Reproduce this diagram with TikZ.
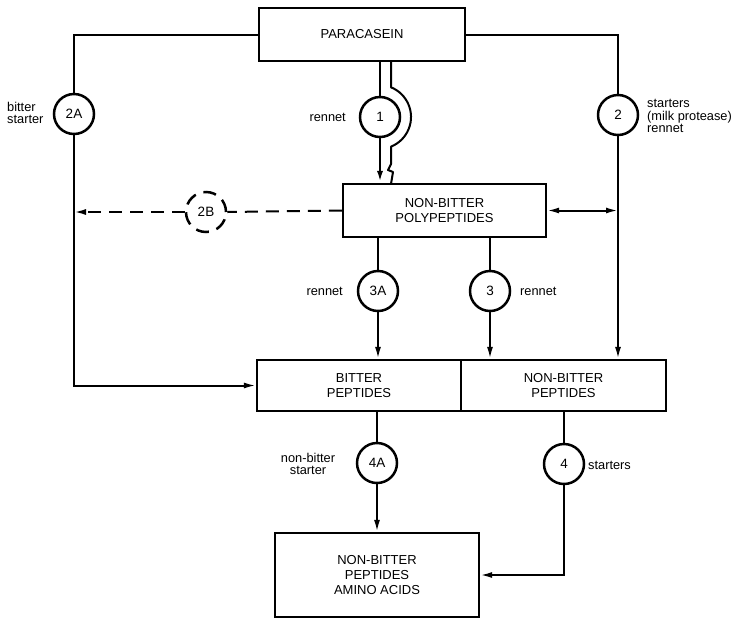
\documentclass[tikz,border=0pt]{standalone}
\usepackage{fontspec}
\setmainfont{Liberation Sans}
\usetikzlibrary{arrows.meta}
\begin{document}
\begin{tikzpicture}[x=1pt,y=1pt,
  box/.style={draw, line width=2.2pt, rectangle, align=center, inner sep=0pt,
    font=\fontsize{13}{15}\selectfont},
  circ/.style={draw, circle, line width=2.5pt, minimum size=40pt, inner sep=0pt,
    font=\fontsize{13.5}{15}\selectfont},
  lab/.style={inner sep=0pt, font=\fontsize{12.8}{12.5}\selectfont},
  conn/.style={line width=2pt},
  tip/.tip={Latex[length=12pt,width=6pt]},
  arr/.style={conn, -tip},
  dash2/.style={dash pattern=on 13pt off 8pt}]
\useasboundingbox (0,0) rectangle (738,-619);

% boxes
\node[box, minimum width=206pt, minimum height=53pt] (para) at (362,-34.5) {PARACASEIN};
\node[box, minimum width=203pt, minimum height=53pt] (nbpp) at (444.5,-210.5) {NON-BITTER\\POLYPEPTIDES};
\node[box, minimum width=204pt, minimum height=51pt] (bitter) at (359,-385.5) {BITTER\\PEPTIDES};
\node[box, minimum width=205pt, minimum height=51pt] (nbp) at (563.5,-385.5) {NON-BITTER\\PEPTIDES};
\node[box, minimum width=204pt, minimum height=84pt] (final) at (377,-575) {NON-BITTER\\PEPTIDES\\AMINO ACIDS};

% circles
\node[circ] (c2A) at (74,-114) {2A};
\node[circ] (c1) at (380,-117) {1};
\node[circ] (c2) at (618,-115) {2};
\node[circ, dash2] (c2B) at (206,-212) {2B};
\node[circ] (c3A) at (378,-291) {3A};
\node[circ] (c3) at (490,-291) {3};
\node[circ] (c4A) at (377,-463) {4A};
\node[circ] (c4) at (564,-464) {4};

% labels
\node[lab, anchor=west, align=left] (lbitter) at (7,-113) {bitter\\starter};
\node[lab, anchor=east] (lren1) at (346,-117) {rennet};
\node[lab, anchor=west, align=left] (lstart2) at (647,-116) {starters\\(milk protease)\\rennet};
\node[lab, anchor=east] (lren3A) at (343,-291) {rennet};
\node[lab, anchor=west] (lren3) at (520,-291) {rennet};
\node[lab, align=center] (lnbs) at (308,-464) {non-bitter\\starter};
\node[lab, anchor=west] (lst4) at (588,-465) {starters};

% connectors: left branch
\draw[conn] (para.west) -| (c2A.north);
\draw[arr] (c2A.south) |- (bitter.west);
% right branch
\draw[conn] (para.east) -| (c2.north);
\draw[arr] (c2.south) -- (c2 |- nbp.north);
% rennet 1 path
\draw[line width=2.8pt] (c1 |- para.south) -- (c1.north);
\draw[arr, line width=2.6pt] (c1.south) -- (c1 |- nbpp.north);
% bypass around circle 1
\coordinate (bpA) at (391,-61);
\coordinate (bpB) at (391,-184);
\draw[conn, line join=round] (bpA) -- (391,-87.3) arc[start angle=68, end angle=-68, radius=32pt]
  -- (391,-164) -- (388,-170) -- (393,-172) -- (bpB);
% double arrow
\draw[conn, tip-tip] (nbpp.east) -- (nbpp.east -| c2);
% dashed branch 2B
\draw[conn, dash2] (nbpp.west) -- (c2B.east);
\draw[arr, dash2] (c2B.west) -- (c2B -| c2A);
% rennet 3A / 3
\draw[conn] (c3A |- nbpp.south) -- (c3A.north);
\draw[arr] (c3A.south) -- (c3A |- bitter.north);
\draw[conn] (c3 |- nbpp.south) -- (c3.north);
\draw[arr] (c3.south) -- (c3 |- nbp.north);
% 4A / 4
\draw[conn] (c4A |- bitter.south) -- (c4A.north);
\draw[arr] (c4A.south) -- (c4A |- final.north);
\draw[conn] (c4 |- nbp.south) -- (c4.north);
\draw[arr] (c4.south) |- (final.east);
\end{tikzpicture}
\end{document}
